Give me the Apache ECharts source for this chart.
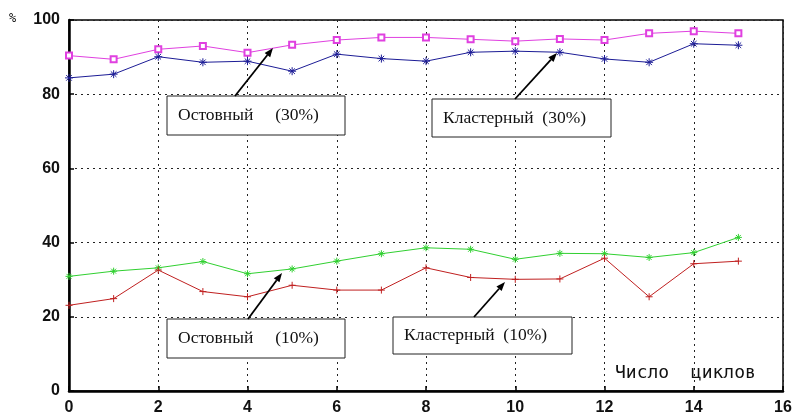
<!doctype html>
<html>
<head>
<meta charset="utf-8">
<title>Число циклов</title>
<script src="https://cdn.jsdelivr.net/npm/echarts@6/dist/echarts.min.js"></script>
<style>
  html, body { margin: 0; padding: 0; background: #fff; }
  #chart { width: 798px; height: 418px; }
</style>
</head>
<body>
<div id="chart"></div>
<script>
// cycles 0..15
var cycles = [0, 1, 2, 3, 4, 5, 6, 7, 8, 9, 10, 11, 12, 13, 14, 15];
var ostov30 = [90.4, 89.4, 92.1, 93.0, 91.2, 93.3, 94.6, 95.3, 95.3, 94.8, 94.3, 94.9, 94.6, 96.4, 97.0, 96.4];
var klaster30 = [84.4, 85.4, 90.1, 88.6, 88.9, 86.2, 90.8, 89.6, 88.9, 91.3, 91.6, 91.3, 89.5, 88.6, 93.6, 93.2];
var ostov10 = [30.9, 32.3, 33.2, 34.9, 31.6, 32.9, 35.0, 37.0, 38.6, 38.2, 35.5, 37.1, 37.0, 36.0, 37.3, 41.4];
var klaster10 = [23.1, 24.9, 32.6, 26.8, 25.4, 28.5, 27.2, 27.2, 33.2, 30.6, 30.1, 30.2, 35.8, 25.4, 34.3, 35.0];

var labels = ['Остовный     (30%)', 'Кластерный  (30%)', 'Остовный     (10%)', 'Кластерный  (10%)'];

function pairs(ys) {
    return cycles.map(function (c, i) { return [c, ys[i]]; });
}

var star = 'path://M0,5L10,5M5,0L5,10M1.5,1.5L8.5,8.5M8.5,1.5L1.5,8.5';
var plus = 'path://M0,5L10,5M5,0L5,10';

function line(data, color, symbol, size) {
    return {
        type: 'line',
        data: pairs(data),
        symbol: symbol,
        symbolSize: size,
        showAllSymbol: true,
        clip: false,
        lineStyle: { color: color, width: 1 },
        itemStyle: { color: color, borderColor: color, borderWidth: 1 },
        animation: false,
        z: 3
    };
}

// boxes [x, y, w, h], arrow [x1, y1, x2, y2] in pixels
var notes = [
    { box: [167, 96, 178, 39], arrow: [235, 96, 273, 48] },
    { box: [432, 99, 179, 38], arrow: [515, 99, 557, 53] },
    { box: [167, 319, 178, 39], arrow: [248, 319, 282, 273] },
    { box: [393, 317, 179, 37], arrow: [474, 317, 505, 282] }
];

var graphics = [];
notes.forEach(function (n, i) {
    var b = n.box, a = n.arrow;
    graphics.push({
        type: 'rect', shape: { x: b[0], y: b[1], width: b[2], height: b[3] },
        style: { fill: '#fff', stroke: '#222', lineWidth: 1 }, z: 10
    });
    graphics.push({
        type: 'text', x: b[0] + 11, y: b[1] + b[3] / 2,
        style: { text: labels[i], fontFamily: 'Liberation Serif', fontSize: 17.5, fill: '#111', align: 'left', verticalAlign: 'middle' },
        z: 11
    });
    var ang = Math.atan2(a[3] - a[1], a[2] - a[0]);
    var hl = 9, hw = 3.5;
    var bx = a[2] - hl * Math.cos(ang), by = a[3] - hl * Math.sin(ang);
    graphics.push({
        type: 'line', shape: { x1: a[0], y1: a[1], x2: bx, y2: by },
        style: { stroke: '#000', lineWidth: 1.8 }, z: 10
    });
    graphics.push({
        type: 'polygon',
        shape: { points: [[a[2], a[3]],
            [bx + hw * Math.sin(ang), by - hw * Math.cos(ang)],
            [bx - hw * Math.sin(ang), by + hw * Math.cos(ang)]] },
        style: { fill: '#000' }, z: 10
    });
});
graphics.push({
    type: 'text', x: 615, y: 373,
    style: { text: 'Число  циклов', fontFamily: 'DejaVu Sans Mono', fontSize: 18, fill: '#111', verticalAlign: 'middle' },
    z: 11
});
graphics.push({
    type: 'text', x: 9, y: 19,
    style: { text: '%', fontFamily: 'DejaVu Sans Mono', fontSize: 12, fill: '#111', verticalAlign: 'middle' },
    z: 11
});

var chart = echarts.init(document.getElementById('chart'));
chart.setOption({
    animation: false,
    backgroundColor: '#fff',
    grid: { left: 69, right: 15, top: 20, bottom: 27, show: true, borderColor: '#000', borderWidth: 1.5 },
    xAxis: {
        type: 'value', min: 0, max: 16, interval: 2,
        axisLine: { show: true, lineStyle: { color: '#000', width: 2.5 } },
        axisTick: { show: true, inside: true, length: 5, lineStyle: { color: '#000', width: 1.5 } },
        axisLabel: { color: '#111', fontFamily: 'Liberation Sans', fontWeight: 'bold', fontSize: 16, margin: 9 },
        splitLine: { show: true, lineStyle: { color: '#222', type: [2, 4], width: 1 } }
    },
    yAxis: {
        type: 'value', min: 0, max: 100, interval: 20,
        axisLine: { show: true, lineStyle: { color: '#000', width: 2.5 } },
        axisTick: { show: true, inside: true, length: 5, lineStyle: { color: '#000', width: 1.5 } },
        axisLabel: { color: '#111', fontFamily: 'Liberation Sans', fontWeight: 'bold', fontSize: 16, margin: 9 },
        splitLine: { show: true, lineStyle: { color: '#222', type: [2, 4], width: 1 } }
    },
    series: [
        line(ostov30, '#e040e0', 'emptyRect', 6),
        line(klaster30, '#1c1c96', star, 8),
        line(ostov10, '#30d030', star, 7),
        line(klaster10, '#c02020', plus, 7)
    ],
    graphic: graphics
});
</script>
</body>
</html>
